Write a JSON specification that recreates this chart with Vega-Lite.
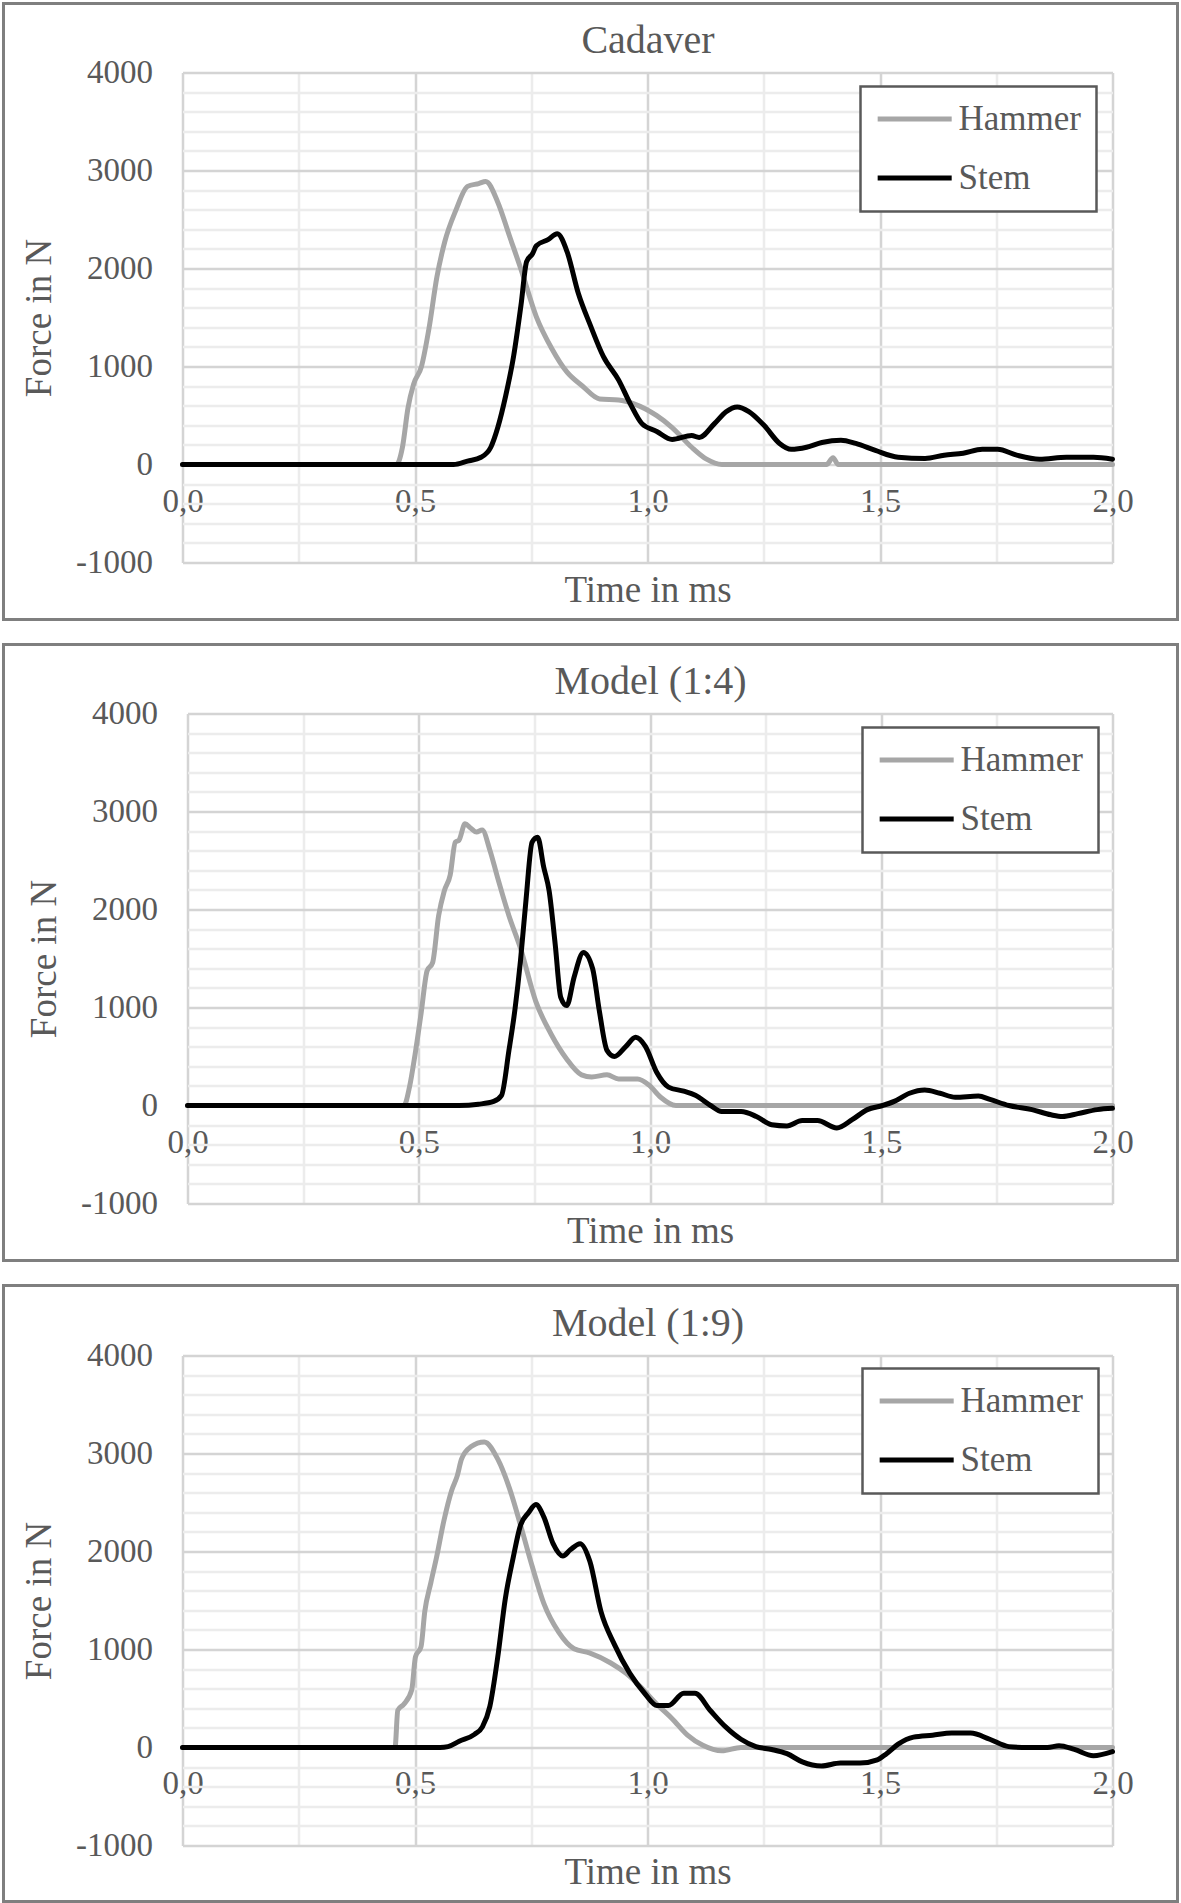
{
  "$schema": "https://vega.github.io/schema/vega-lite/v6.json",
  "background": "white",
  "padding": {"left": 1.5, "top": 1.5, "right": 0, "bottom": 0},
  "spacing": 21,
  "datasets": {
    "cadaver": [
      {"s":"Hammer","t":0,"F":0},{"s":"Hammer","t":0.46,"F":0},{"s":"Hammer","t":0.473,"F":176},{"s":"Hammer","t":0.485,"F":579},{"s":"Hammer","t":0.497,"F":820},{"s":"Hammer","t":0.514,"F":1002},{"s":"Hammer","t":0.53,"F":1386},{"s":"Hammer","t":0.547,"F":1910},{"s":"Hammer","t":0.564,"F":2273},{"s":"Hammer","t":0.588,"F":2596},{"s":"Hammer","t":0.613,"F":2838},{"s":"Hammer","t":0.637,"F":2867},{"s":"Hammer","t":0.652,"F":2888},{"s":"Hammer","t":0.678,"F":2677},{"s":"Hammer","t":0.703,"F":2334},{"s":"Hammer","t":0.728,"F":1991},{"s":"Hammer","t":0.761,"F":1507},{"s":"Hammer","t":0.794,"F":1184},{"s":"Hammer","t":0.827,"F":942},{"s":"Hammer","t":0.86,"F":801},{"s":"Hammer","t":0.897,"F":669},{"s":"Hammer","t":0.938,"F":659},{"s":"Hammer","t":0.971,"F":619},{"s":"Hammer","t":1.02,"F":498},{"s":"Hammer","t":1.053,"F":377},{"s":"Hammer","t":1.095,"F":176},{"s":"Hammer","t":1.127,"F":54},{"s":"Hammer","t":1.16,"F":0},{"s":"Hammer","t":1.385,"F":0},{"s":"Hammer","t":1.399,"F":70},{"s":"Hammer","t":1.41,"F":0},{"s":"Hammer","t":2.0,"F":0},
      {"s":"Stem","t":0,"F":0},{"s":"Stem","t":0.583,"F":0},{"s":"Stem","t":0.613,"F":35},{"s":"Stem","t":0.642,"F":74},{"s":"Stem","t":0.663,"F":176},{"s":"Stem","t":0.678,"F":377},{"s":"Stem","t":0.695,"F":700},{"s":"Stem","t":0.712,"F":1103},{"s":"Stem","t":0.728,"F":1628},{"s":"Stem","t":0.74,"F":2071},{"s":"Stem","t":0.753,"F":2153},{"s":"Stem","t":0.761,"F":2233},{"s":"Stem","t":0.786,"F":2294},{"s":"Stem","t":0.806,"F":2354},{"s":"Stem","t":0.827,"F":2172},{"s":"Stem","t":0.851,"F":1749},{"s":"Stem","t":0.878,"F":1410},{"s":"Stem","t":0.905,"F":1103},{"s":"Stem","t":0.938,"F":861},{"s":"Stem","t":0.963,"F":619},{"s":"Stem","t":0.988,"F":417},{"s":"Stem","t":1.02,"F":337},{"s":"Stem","t":1.053,"F":256},{"s":"Stem","t":1.095,"F":296},{"s":"Stem","t":1.111,"F":276},{"s":"Stem","t":1.144,"F":417},{"s":"Stem","t":1.169,"F":539},{"s":"Stem","t":1.193,"F":587},{"s":"Stem","t":1.218,"F":539},{"s":"Stem","t":1.251,"F":397},{"s":"Stem","t":1.284,"F":215},{"s":"Stem","t":1.309,"F":155},{"s":"Stem","t":1.342,"F":176},{"s":"Stem","t":1.375,"F":224},{"s":"Stem","t":1.416,"F":248},{"s":"Stem","t":1.448,"F":215},{"s":"Stem","t":1.49,"F":143},{"s":"Stem","t":1.539,"F":74},{"s":"Stem","t":1.597,"F":62},{"s":"Stem","t":1.638,"F":95},{"s":"Stem","t":1.679,"F":115},{"s":"Stem","t":1.72,"F":155},{"s":"Stem","t":1.753,"F":155},{"s":"Stem","t":1.794,"F":95},{"s":"Stem","t":1.843,"F":54},{"s":"Stem","t":1.901,"F":74},{"s":"Stem","t":1.959,"F":74},{"s":"Stem","t":2.0,"F":54}
    ],
    "m14": [
      {"s":"Hammer","t":0,"F":0},{"s":"Hammer","t":0.468,"F":0},{"s":"Hammer","t":0.48,"F":188},{"s":"Hammer","t":0.492,"F":520},{"s":"Hammer","t":0.505,"F":938},{"s":"Hammer","t":0.518,"F":1374},{"s":"Hammer","t":0.53,"F":1458},{"s":"Hammer","t":0.543,"F":1937},{"s":"Hammer","t":0.555,"F":2186},{"s":"Hammer","t":0.568,"F":2353},{"s":"Hammer","t":0.579,"F":2687},{"s":"Hammer","t":0.587,"F":2707},{"s":"Hammer","t":0.6,"F":2874},{"s":"Hammer","t":0.612,"F":2832},{"s":"Hammer","t":0.625,"F":2790},{"s":"Hammer","t":0.637,"F":2811},{"s":"Hammer","t":0.654,"F":2603},{"s":"Hammer","t":0.67,"F":2333},{"s":"Hammer","t":0.695,"F":1937},{"s":"Hammer","t":0.72,"F":1604},{"s":"Hammer","t":0.753,"F":1062},{"s":"Hammer","t":0.786,"F":730},{"s":"Hammer","t":0.819,"F":480},{"s":"Hammer","t":0.852,"F":313},{"s":"Hammer","t":0.874,"F":292},{"s":"Hammer","t":0.907,"F":313},{"s":"Hammer","t":0.932,"F":271},{"s":"Hammer","t":0.973,"F":271},{"s":"Hammer","t":0.998,"F":208},{"s":"Hammer","t":1.023,"F":84},{"s":"Hammer","t":1.056,"F":0},{"s":"Hammer","t":2.0,"F":0},
      {"s":"Stem","t":0,"F":0},{"s":"Stem","t":0.587,"F":0},{"s":"Stem","t":0.629,"F":13},{"s":"Stem","t":0.662,"F":42},{"s":"Stem","t":0.679,"F":104},{"s":"Stem","t":0.695,"F":562},{"s":"Stem","t":0.708,"F":979},{"s":"Stem","t":0.72,"F":1479},{"s":"Stem","t":0.732,"F":2103},{"s":"Stem","t":0.745,"F":2687},{"s":"Stem","t":0.757,"F":2737},{"s":"Stem","t":0.77,"F":2437},{"s":"Stem","t":0.782,"F":2187},{"s":"Stem","t":0.795,"F":1646},{"s":"Stem","t":0.807,"F":1104},{"s":"Stem","t":0.82,"F":1020},{"s":"Stem","t":0.836,"F":1312},{"s":"Stem","t":0.856,"F":1562},{"s":"Stem","t":0.876,"F":1396},{"s":"Stem","t":0.89,"F":979},{"s":"Stem","t":0.907,"F":562},{"s":"Stem","t":0.923,"F":500},{"s":"Stem","t":0.948,"F":604},{"s":"Stem","t":0.969,"F":696},{"s":"Stem","t":0.99,"F":604},{"s":"Stem","t":1.015,"F":334},{"s":"Stem","t":1.04,"F":188},{"s":"Stem","t":1.073,"F":146},{"s":"Stem","t":1.098,"F":104},{"s":"Stem","t":1.131,"F":0},{"s":"Stem","t":1.155,"F":-62},{"s":"Stem","t":1.197,"F":-62},{"s":"Stem","t":1.23,"F":-112},{"s":"Stem","t":1.263,"F":-196},{"s":"Stem","t":1.296,"F":-208},{"s":"Stem","t":1.329,"F":-154},{"s":"Stem","t":1.362,"F":-154},{"s":"Stem","t":1.404,"F":-229},{"s":"Stem","t":1.437,"F":-145},{"s":"Stem","t":1.47,"F":-42},{"s":"Stem","t":1.503,"F":0},{"s":"Stem","t":1.528,"F":42},{"s":"Stem","t":1.561,"F":125},{"s":"Stem","t":1.594,"F":158},{"s":"Stem","t":1.627,"F":125},{"s":"Stem","t":1.66,"F":84},{"s":"Stem","t":1.71,"F":96},{"s":"Stem","t":1.735,"F":62},{"s":"Stem","t":1.776,"F":0},{"s":"Stem","t":1.826,"F":-42},{"s":"Stem","t":1.867,"F":-95},{"s":"Stem","t":1.892,"F":-112},{"s":"Stem","t":1.925,"F":-83},{"s":"Stem","t":1.967,"F":-42},{"s":"Stem","t":2.0,"F":-29}
    ],
    "m19": [
      {"s":"Hammer","t":0,"F":0},{"s":"Hammer","t":0.457,"F":0},{"s":"Hammer","t":0.463,"F":380},{"s":"Hammer","t":0.476,"F":442},{"s":"Hammer","t":0.493,"F":588},{"s":"Hammer","t":0.501,"F":924},{"s":"Hammer","t":0.513,"F":1030},{"s":"Hammer","t":0.521,"F":1386},{"s":"Hammer","t":0.534,"F":1680},{"s":"Hammer","t":0.546,"F":1933},{"s":"Hammer","t":0.562,"F":2311},{"s":"Hammer","t":0.579,"F":2626},{"s":"Hammer","t":0.591,"F":2774},{"s":"Hammer","t":0.6,"F":2942},{"s":"Hammer","t":0.62,"F":3068},{"s":"Hammer","t":0.649,"F":3118},{"s":"Hammer","t":0.678,"F":2942},{"s":"Hammer","t":0.703,"F":2647},{"s":"Hammer","t":0.727,"F":2269},{"s":"Hammer","t":0.752,"F":1849},{"s":"Hammer","t":0.777,"F":1470},{"s":"Hammer","t":0.809,"F":1177},{"s":"Hammer","t":0.842,"F":1008},{"s":"Hammer","t":0.875,"F":966},{"s":"Hammer","t":0.921,"F":862},{"s":"Hammer","t":0.954,"F":756},{"s":"Hammer","t":0.987,"F":610},{"s":"Hammer","t":1.02,"F":442},{"s":"Hammer","t":1.053,"F":294},{"s":"Hammer","t":1.086,"F":126},{"s":"Hammer","t":1.119,"F":22},{"s":"Hammer","t":1.16,"F":-34},{"s":"Hammer","t":1.201,"F":0},{"s":"Hammer","t":2.0,"F":0},
      {"s":"Stem","t":0,"F":0},{"s":"Stem","t":0.554,"F":0},{"s":"Stem","t":0.571,"F":9},{"s":"Stem","t":0.595,"F":64},{"s":"Stem","t":0.628,"F":134},{"s":"Stem","t":0.645,"F":210},{"s":"Stem","t":0.661,"F":420},{"s":"Stem","t":0.678,"F":924},{"s":"Stem","t":0.694,"F":1512},{"s":"Stem","t":0.711,"F":1933},{"s":"Stem","t":0.727,"F":2269},{"s":"Stem","t":0.744,"F":2395},{"s":"Stem","t":0.76,"F":2479},{"s":"Stem","t":0.777,"F":2353},{"s":"Stem","t":0.797,"F":2080},{"s":"Stem","t":0.818,"F":1954},{"s":"Stem","t":0.834,"F":2017},{"s":"Stem","t":0.855,"F":2080},{"s":"Stem","t":0.876,"F":1900},{"s":"Stem","t":0.9,"F":1386},{"s":"Stem","t":0.929,"F":1050},{"s":"Stem","t":0.962,"F":756},{"s":"Stem","t":0.995,"F":546},{"s":"Stem","t":1.02,"F":429},{"s":"Stem","t":1.045,"F":429},{"s":"Stem","t":1.078,"F":554},{"s":"Stem","t":1.102,"F":554},{"s":"Stem","t":1.135,"F":378},{"s":"Stem","t":1.168,"F":210},{"s":"Stem","t":1.201,"F":84},{"s":"Stem","t":1.233,"F":9},{"s":"Stem","t":1.267,"F":-20},{"s":"Stem","t":1.3,"F":-63},{"s":"Stem","t":1.333,"F":-147},{"s":"Stem","t":1.374,"F":-189},{"s":"Stem","t":1.415,"F":-159},{"s":"Stem","t":1.457,"F":-159},{"s":"Stem","t":1.494,"F":-126},{"s":"Stem","t":1.514,"F":-63},{"s":"Stem","t":1.539,"F":34},{"s":"Stem","t":1.572,"F":106},{"s":"Stem","t":1.613,"F":126},{"s":"Stem","t":1.654,"F":147},{"s":"Stem","t":1.695,"F":147},{"s":"Stem","t":1.736,"F":84},{"s":"Stem","t":1.777,"F":9},{"s":"Stem","t":1.819,"F":0},{"s":"Stem","t":1.86,"F":0},{"s":"Stem","t":1.885,"F":17},{"s":"Stem","t":1.918,"F":-20},{"s":"Stem","t":1.959,"F":-83},{"s":"Stem","t":2.0,"F":-42}
    ]
  },
  "vconcat": [
    {
      "width": 1174, "height": 616,
      "data": {"name": "cadaver"},
      "layer": [
        {
          "mark": {"type": "line", "opacity": 0},
          "encoding": {
            "detail": {"field": "s"},
            "x": {"field": "t", "type": "quantitative", "scale": {"domain": [0, 2], "range": [179, 1109], "nice": false, "zero": false},
              "axis": {"orient": "top", "offset": -69, "values": [0,0.25,0.5,0.75,1,1.25,1.5,1.75,2], "labels": false, "domain": false, "grid": false, "ticks": true, "tickSize": -490, "tickWidth": 2.5, "tickColor": {"condition": {"test": "datum.value * 2 % 1 === 0", "value": "#d4d4d4"}, "value": "#ececec"}, "title": "Cadaver", "titlePadding": 11, "titleFontSize": 40}},
            "y": {"field": "F", "type": "quantitative", "scale": {"domain": [-1000, 4000], "range": [559, 69], "nice": false, "zero": false},
              "axis": {"orient": "left", "offset": -179, "values": [-1000,-800,-600,-400,-200,0,200,400,600,800,1000,1200,1400,1600,1800,2000,2200,2400,2600,2800,3000,3200,3400,3600,3800,4000], "labels": false, "domain": false, "grid": false, "ticks": true, "tickSize": -930, "tickWidth": 2.5, "tickColor": {"condition": {"test": "datum.value % 1000 === 0", "value": "#d4d4d4"}, "value": "#ececec"}, "title": null}}
          }
        },
        {
          "mark": {"type": "line"},
          "encoding": {
            "x": {"field": "t", "type": "quantitative", "scale": {"domain": [0, 2], "range": [179, 1109], "nice": false, "zero": false},
              "axis": {"orient": "bottom", "offset": -155, "values": [0,0.5,1,1.5,2], "ticks": false, "domain": false, "grid": false, "labelPadding": 21, "labelFontSize": 33, "labelFlush": false, "labelOverlap": false, "labelExpr": "replace(format(datum.value, '.1f'), '.', ',')", "title": "Time in ms", "titlePadding": 54, "titleFontSize": 37}},
            "y": {"field": "F", "type": "quantitative", "scale": {"domain": [-1000, 4000], "range": [559, 69], "nice": false, "zero": false},
              "axis": {"orient": "left", "offset": -179, "values": [-1000,0,1000,2000,3000,4000], "ticks": false, "domain": false, "grid": false, "labelPadding": 30, "labelFontSize": 33, "labelOverlap": false, "labelExpr": "'' + datum.value", "title": "Force in N", "titleFontSize": 37, "titlePadding": 17}},
            "color": {"field": "s", "type": "nominal", "scale": {"domain": ["Hammer", "Stem"], "range": ["#a6a6a6", "#000000"]}, "legend": {"orient": "none", "legendX": 857, "legendY": 83}}
          }
        }
      ],
      "resolve": {"axis": {"x": "independent", "y": "independent"}}
    },
    {
      "width": 1174, "height": 616,
      "data": {"name": "m14"},
      "layer": [
        {
          "mark": {"type": "line", "opacity": 0},
          "encoding": {
            "detail": {"field": "s"},
            "x": {"field": "t", "type": "quantitative", "scale": {"domain": [0, 2], "range": [184, 1109], "nice": false, "zero": false},
              "axis": {"orient": "top", "offset": -69, "values": [0,0.25,0.5,0.75,1,1.25,1.5,1.75,2], "labels": false, "domain": false, "grid": false, "ticks": true, "tickSize": -490, "tickWidth": 2.5, "tickColor": {"condition": {"test": "datum.value * 2 % 1 === 0", "value": "#d4d4d4"}, "value": "#ececec"}, "title": "Model (1:4)", "titlePadding": 11, "titleFontSize": 40}},
            "y": {"field": "F", "type": "quantitative", "scale": {"domain": [-1000, 4000], "range": [559, 69], "nice": false, "zero": false},
              "axis": {"orient": "left", "offset": -184, "values": [-1000,-800,-600,-400,-200,0,200,400,600,800,1000,1200,1400,1600,1800,2000,2200,2400,2600,2800,3000,3200,3400,3600,3800,4000], "labels": false, "domain": false, "grid": false, "ticks": true, "tickSize": -925, "tickWidth": 2.5, "tickColor": {"condition": {"test": "datum.value % 1000 === 0", "value": "#d4d4d4"}, "value": "#ececec"}, "title": null}}
          }
        },
        {
          "mark": {"type": "line"},
          "encoding": {
            "x": {"field": "t", "type": "quantitative", "scale": {"domain": [0, 2], "range": [184, 1109], "nice": false, "zero": false},
              "axis": {"orient": "bottom", "offset": -155, "values": [0,0.5,1,1.5,2], "ticks": false, "domain": false, "grid": false, "labelPadding": 21, "labelFontSize": 33, "labelFlush": false, "labelOverlap": false, "labelExpr": "replace(format(datum.value, '.1f'), '.', ',')", "title": "Time in ms", "titlePadding": 54, "titleFontSize": 37}},
            "y": {"field": "F", "type": "quantitative", "scale": {"domain": [-1000, 4000], "range": [559, 69], "nice": false, "zero": false},
              "axis": {"orient": "left", "offset": -184, "values": [-1000,0,1000,2000,3000,4000], "ticks": false, "domain": false, "grid": false, "labelPadding": 30, "labelFontSize": 33, "labelOverlap": false, "labelExpr": "'' + datum.value", "title": "Force in N", "titleFontSize": 37, "titlePadding": 17}},
            "color": {"field": "s", "type": "nominal", "scale": {"domain": ["Hammer", "Stem"], "range": ["#a6a6a6", "#000000"]}, "legend": {"orient": "none", "legendX": 859, "legendY": 83}}
          }
        }
      ],
      "resolve": {"axis": {"x": "independent", "y": "independent"}}
    },
    {
      "width": 1174, "height": 616,
      "data": {"name": "m19"},
      "layer": [
        {
          "mark": {"type": "line", "opacity": 0},
          "encoding": {
            "detail": {"field": "s"},
            "x": {"field": "t", "type": "quantitative", "scale": {"domain": [0, 2], "range": [179, 1109], "nice": false, "zero": false},
              "axis": {"orient": "top", "offset": -70, "values": [0,0.25,0.5,0.75,1,1.25,1.5,1.75,2], "labels": false, "domain": false, "grid": false, "ticks": true, "tickSize": -490, "tickWidth": 2.5, "tickColor": {"condition": {"test": "datum.value * 2 % 1 === 0", "value": "#d4d4d4"}, "value": "#ececec"}, "title": "Model (1:9)", "titlePadding": 11, "titleFontSize": 40}},
            "y": {"field": "F", "type": "quantitative", "scale": {"domain": [-1000, 4000], "range": [560, 70], "nice": false, "zero": false},
              "axis": {"orient": "left", "offset": -179, "values": [-1000,-800,-600,-400,-200,0,200,400,600,800,1000,1200,1400,1600,1800,2000,2200,2400,2600,2800,3000,3200,3400,3600,3800,4000], "labels": false, "domain": false, "grid": false, "ticks": true, "tickSize": -930, "tickWidth": 2.5, "tickColor": {"condition": {"test": "datum.value % 1000 === 0", "value": "#d4d4d4"}, "value": "#ececec"}, "title": null}}
          }
        },
        {
          "mark": {"type": "line"},
          "encoding": {
            "x": {"field": "t", "type": "quantitative", "scale": {"domain": [0, 2], "range": [179, 1109], "nice": false, "zero": false},
              "axis": {"orient": "bottom", "offset": -155, "values": [0,0.5,1,1.5,2], "ticks": false, "domain": false, "grid": false, "labelPadding": 21, "labelFontSize": 33, "labelFlush": false, "labelOverlap": false, "labelExpr": "replace(format(datum.value, '.1f'), '.', ',')", "title": "Time in ms", "titlePadding": 54, "titleFontSize": 37}},
            "y": {"field": "F", "type": "quantitative", "scale": {"domain": [-1000, 4000], "range": [560, 70], "nice": false, "zero": false},
              "axis": {"orient": "left", "offset": -179, "values": [-1000,0,1000,2000,3000,4000], "ticks": false, "domain": false, "grid": false, "labelPadding": 30, "labelFontSize": 33, "labelOverlap": false, "labelExpr": "'' + datum.value", "title": "Force in N", "titleFontSize": 37, "titlePadding": 17}},
            "color": {"field": "s", "type": "nominal", "scale": {"domain": ["Hammer", "Stem"], "range": ["#a6a6a6", "#000000"]}, "legend": {"orient": "none", "legendX": 859, "legendY": 83}}
          }
        }
      ],
      "resolve": {"axis": {"x": "independent", "y": "independent"}}
    }
  ],
  "resolve": {"scale": {"color": "independent"}, "legend": {"color": "independent"}},
  "config": {
    "font": "Liberation Serif",
    "view": {"stroke": "#7f7f7f", "strokeWidth": 3},
    "axis": {"labelFont": "Liberation Serif", "titleFont": "Liberation Serif", "labelColor": "#595959", "titleColor": "#595959", "titleFontWeight": "normal"},
    "line": {"strokeWidth": 5, "interpolate": "monotone", "strokeCap": "round", "strokeJoin": "round"},
    "legend": {"title": null, "strokeColor": "#595959", "strokeWidth": 2.5, "fillColor": "white", "padding": 15, "labelFont": "Liberation Serif", "labelFontSize": 35, "labelColor": "#595959", "symbolType": "M-1,0H5", "symbolSize": 609, "symbolStrokeWidth": 5, "rowPadding": 23, "labelOffset": 51, "symbolOffset": -3}
  }
}
